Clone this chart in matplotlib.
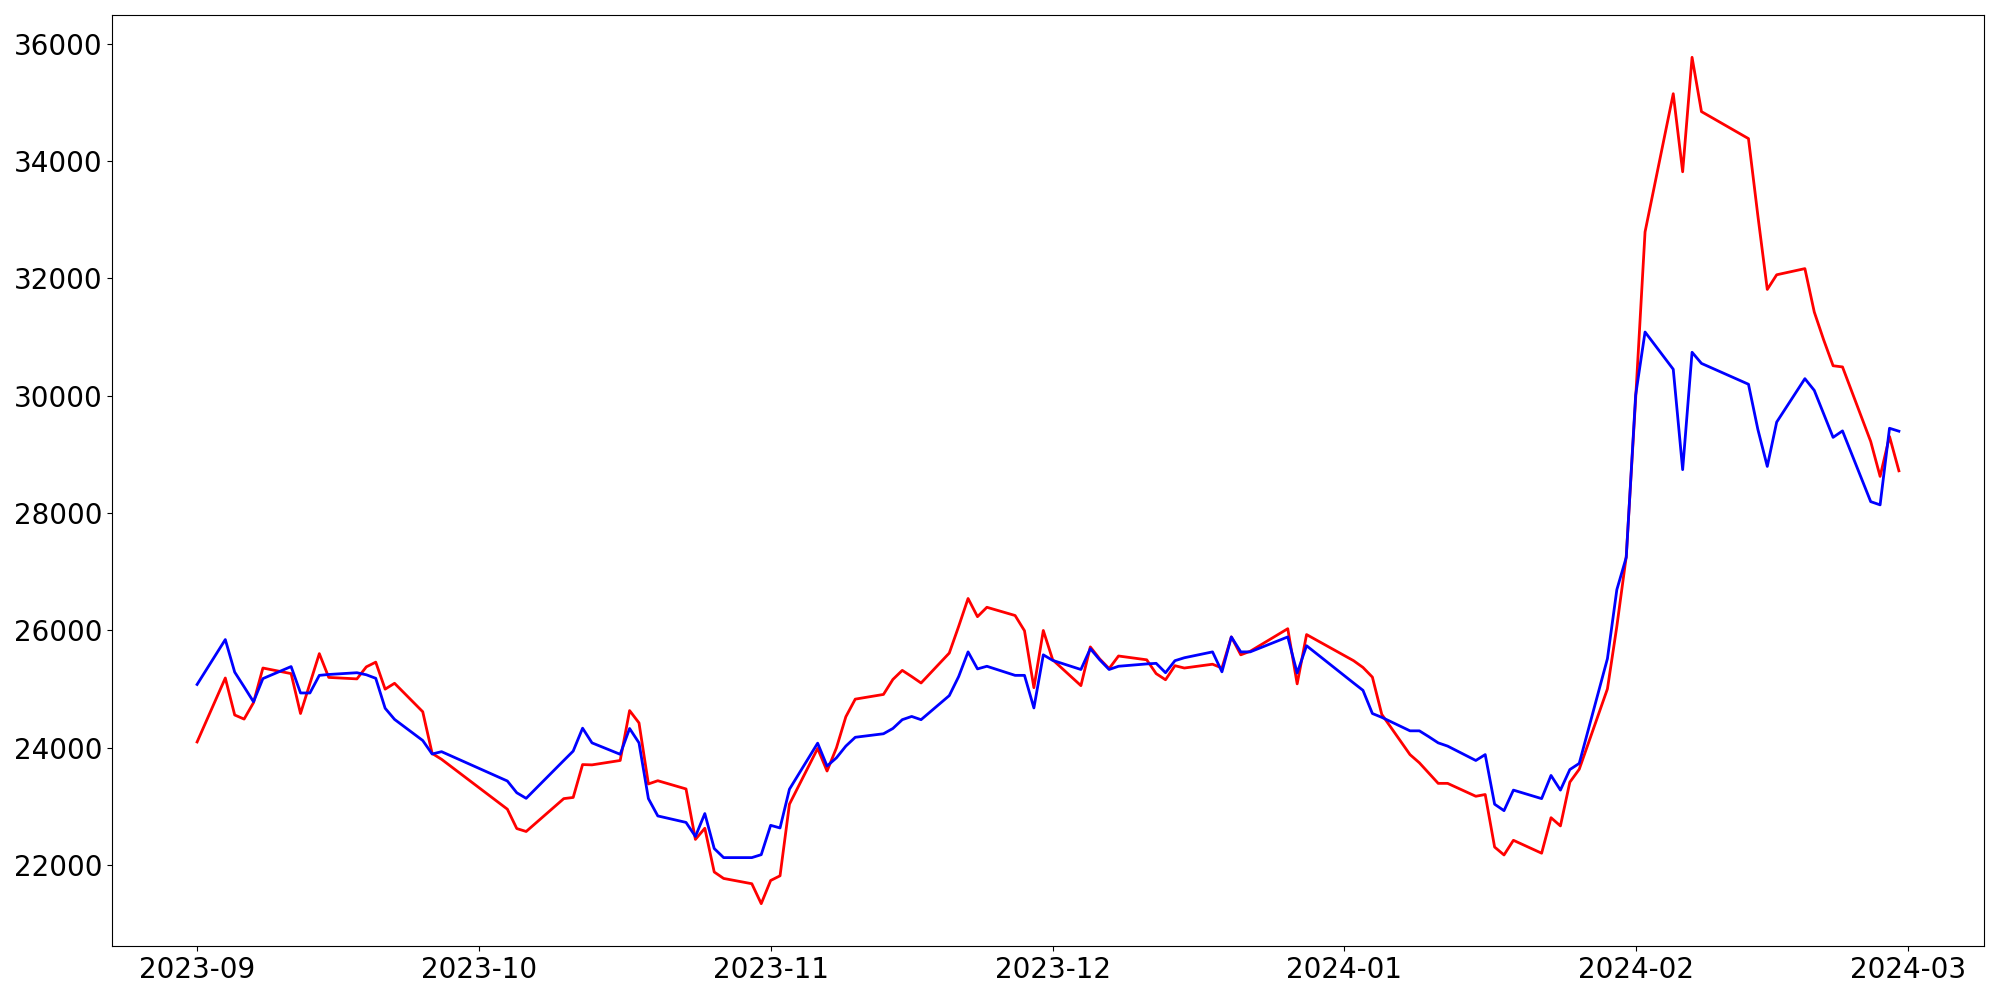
import matplotlib
matplotlib.use("Agg")
import matplotlib.pyplot as plt
import matplotlib.dates as mdates
import pandas as pd

dates = [
    "2023-09-01", "2023-09-04", "2023-09-05", "2023-09-06", "2023-09-07", "2023-09-08",
    "2023-09-11", "2023-09-12", "2023-09-13", "2023-09-14", "2023-09-15",
    "2023-09-18", "2023-09-19", "2023-09-20", "2023-09-21", "2023-09-22",
    "2023-09-25", "2023-09-26", "2023-09-27",
    "2023-10-04", "2023-10-05", "2023-10-06",
    "2023-10-10", "2023-10-11", "2023-10-12", "2023-10-13",
    "2023-10-16", "2023-10-17", "2023-10-18", "2023-10-19", "2023-10-20",
    "2023-10-23", "2023-10-24", "2023-10-25", "2023-10-26", "2023-10-27",
    "2023-10-30", "2023-10-31",
    "2023-11-01", "2023-11-02", "2023-11-03",
    "2023-11-06", "2023-11-07", "2023-11-08", "2023-11-09", "2023-11-10",
    "2023-11-13", "2023-11-14", "2023-11-15", "2023-11-16", "2023-11-17",
    "2023-11-20", "2023-11-21", "2023-11-22", "2023-11-23", "2023-11-24",
    "2023-11-27", "2023-11-28", "2023-11-29", "2023-11-30",
    "2023-12-01",
    "2023-12-04", "2023-12-05", "2023-12-06", "2023-12-07", "2023-12-08",
    "2023-12-11", "2023-12-12", "2023-12-13", "2023-12-14", "2023-12-15",
    "2023-12-18", "2023-12-19", "2023-12-20", "2023-12-21", "2023-12-22",
    "2023-12-26", "2023-12-27", "2023-12-28",
    "2024-01-02", "2024-01-03", "2024-01-04", "2024-01-05",
    "2024-01-08", "2024-01-09", "2024-01-10", "2024-01-11", "2024-01-12",
    "2024-01-15", "2024-01-16", "2024-01-17", "2024-01-18", "2024-01-19",
    "2024-01-22", "2024-01-23", "2024-01-24", "2024-01-25", "2024-01-26",
    "2024-01-29", "2024-01-30", "2024-01-31",
    "2024-02-01", "2024-02-02",
    "2024-02-05", "2024-02-06", "2024-02-07", "2024-02-08",
    "2024-02-13", "2024-02-14", "2024-02-15", "2024-02-16",
    "2024-02-19", "2024-02-20", "2024-02-21", "2024-02-22", "2024-02-23",
    "2024-02-26", "2024-02-27", "2024-02-28", "2024-02-29",
]

red_values = [
    # Sep
    24100, 25190, 24560, 24490, 24770, 25360, 25265, 24585, 25095, 25605, 25200,
    25175, 25380, 25460, 25000, 25100, 24615, 23905, 23805,
    # Oct
    22955, 22625, 22575, 23135, 23155, 23715, 23710, 23785, 24635, 24425, 23385,
    23440, 23300, 22440, 22630, 21885, 21775, 21685, 21345,
    # Nov
    21740, 21820, 23040, 23990, 23605, 24000, 24530, 24830, 24910, 25165, 25320,
    25215, 25105, 25615, 26070, 26545, 26235, 26395, 26255, 25995, 25025, 26000,
    # Dec
    25500, 25060, 25720, 25515, 25350, 25565, 25500, 25265, 25160, 25400, 25360,
    25425, 25360, 25890, 25585, 25645, 26030, 25090, 25930,
    # Jan
    25485, 25370, 25205, 24570, 23885, 23745, 23570, 23395, 23395, 23175, 23205,
    22310, 22175, 22425, 22205, 22810, 22670, 23415, 23635, 25005, 26070, 27260,
    # Feb
    29950, 32790, 35145, 33815, 35765, 34840, 34380, 33065, 31810, 32060, 32165,
    31425, 30950, 30510, 30490, 29220, 28625, 29305, 28720,
]

blue_values = [
    # Sep
    25080, 25845, 25290, 25040, 24785, 25180, 25385, 24935, 24935, 25235, 25250,
    25280, 25245, 25185, 24675, 24485, 24125, 23895, 23935,
    # Oct
    23435, 23235, 23140, 23785, 23945, 24335, 24085, 23890, 24330, 24085, 23135,
    22840, 22730, 22490, 22880, 22285, 22130, 22130, 22180,
    # Nov
    22680, 22635, 23295, 24080, 23690, 23830, 24030, 24180, 24240, 24330, 24480,
    24535, 24480, 24890, 25215, 25635, 25345, 25390, 25235, 25235, 24680, 25585,
    # Dec
    25490, 25335, 25690, 25500, 25335, 25390, 25430, 25440, 25280, 25485, 25535,
    25635, 25295, 25890, 25635, 25635, 25890, 25275, 25740,
    # Jan
    25105, 24980, 24585, 24520, 24290, 24290, 24190, 24085, 24030, 23785, 23885,
    23040, 22930, 23280, 23135, 23530, 23280, 23630, 23735, 25520, 26695, 27245,
    # Feb
    30010, 31085, 30450, 28740, 30740, 30550, 30195, 29425, 28795, 29550, 30290,
    30090, 29690, 29290, 29400, 28195, 28140, 29445, 29395,
]

x = pd.to_datetime(dates)

fig, ax = plt.subplots(figsize=(20, 10), dpi=100)
ax.plot(x, red_values, color="red", linewidth=2)
ax.plot(x, blue_values, color="blue", linewidth=2)

ax.xaxis.set_major_locator(mdates.MonthLocator())
ax.xaxis.set_major_formatter(mdates.DateFormatter("%Y-%m"))
ax.tick_params(axis="both", labelsize=20)

fig.subplots_adjust(left=0.056, right=0.992, top=0.985, bottom=0.054)
fig.savefig("out.png", dpi=100)
